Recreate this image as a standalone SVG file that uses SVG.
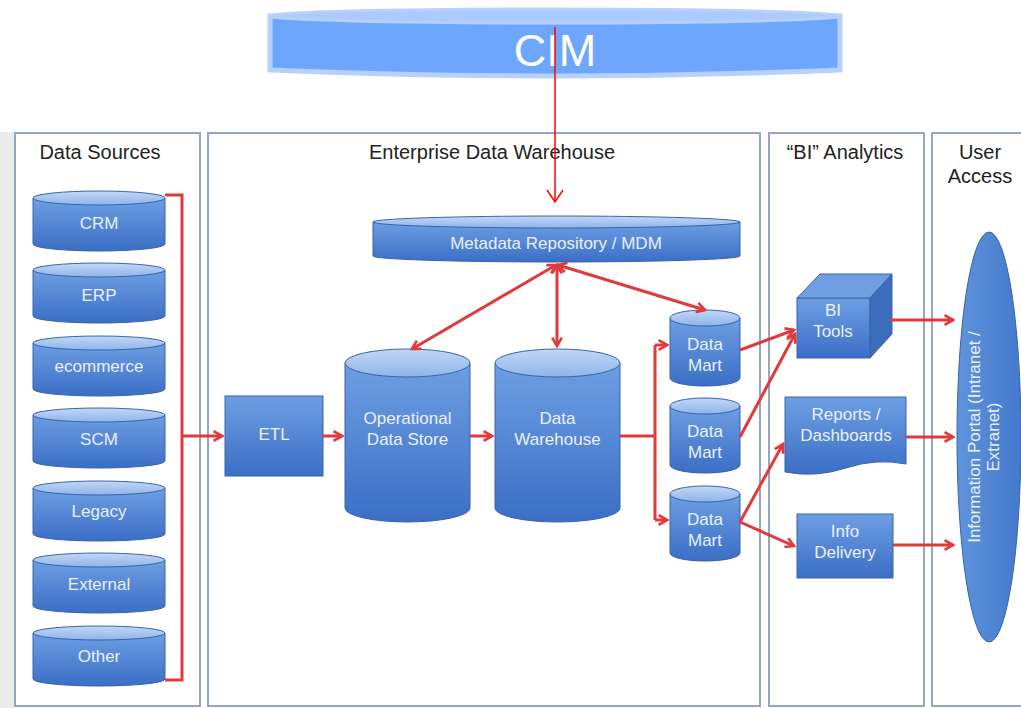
<svg xmlns="http://www.w3.org/2000/svg" width="1021" height="708" viewBox="0 0 1021 708">
<defs>
<linearGradient id="body" x1="0" y1="0" x2="0" y2="1"><stop offset="0" stop-color="#6d9ee3"/><stop offset="1" stop-color="#3b6fc6"/></linearGradient>
<linearGradient id="bodyH" x1="0" y1="0" x2="1" y2="0"><stop offset="0" stop-color="#5f93dc"/><stop offset="1" stop-color="#4479cc"/></linearGradient>
<linearGradient id="top" x1="0" y1="0" x2="0" y2="1"><stop offset="0" stop-color="#c2d8f5"/><stop offset="1" stop-color="#8fb4ea"/></linearGradient>
<marker id="ah" viewBox="0 0 10 10" refX="8" refY="5" markerWidth="4" markerHeight="4" orient="auto-start-reverse" markerUnits="strokeWidth">
<path d="M1,1 L8,5 L1,9" fill="none" stroke="#e03a3a" stroke-width="2.2"/>
</marker>
<marker id="ahv" viewBox="0 0 20 20" refX="10" refY="18" markerWidth="20" markerHeight="20" orient="0" markerUnits="userSpaceOnUse">
<path d="M2,6 L10,18 L18,6" fill="none" stroke="#ff0000" stroke-width="1.5"/>
</marker>
<style>
.panel{fill:#ffffff;stroke:#93a6c4;stroke-width:2}
.hdr{font-family:"Liberation Sans",Arial,sans-serif;font-size:20px;fill:#222;text-anchor:middle}
.lbl{font-family:"Liberation Sans",Arial,sans-serif;font-size:17px;fill:#eaf1fc;text-anchor:middle}
.cb{fill:url(#body);stroke:#3a63a8;stroke-width:1}
.ct{fill:url(#top);stroke:#3a63a8;stroke-width:1}
.con{fill:none;stroke:#e03a3a;stroke-width:3}
</style>
</defs>
<rect x="0" y="0" width="1021" height="708" fill="#ffffff"/>
<rect x="0" y="132" width="14" height="576" fill="#ececec"/>
<g id="panels">
<rect class="panel" x="15" y="133" width="185" height="573"/>
<rect class="panel" x="208" y="133" width="552" height="573"/>
<rect class="panel" x="769" y="133" width="155" height="573"/>
<rect class="panel" x="932" y="133" width="95" height="573"/>
<text class="hdr" x="100" y="159">Data Sources</text>
<text class="hdr" x="492" y="159">Enterprise Data Warehouse</text>
<text class="hdr" x="845" y="159">“BI” Analytics</text>
<text class="hdr" x="980" y="159">User</text>
<text class="hdr" x="980" y="183">Access</text>
</g>
<g id="cim">
<path d="M270,16 L270,70 Q555,82 840,70 L840,16 Z" fill="#6ea6fe" stroke="#b7d0fc" stroke-width="5"/>
<ellipse cx="555" cy="16" rx="285" ry="7" fill="#aacbfe" stroke="#b7d0fc" stroke-width="3"/>
<text x="555" y="66" font-family="Liberation Sans,Arial,sans-serif" font-size="45" fill="#ffffff" text-anchor="middle">CIM</text>
</g>
<g id="sources">
<g id="src-crm"><path class="cb" d="M33,198 L33,244 A66,7 0 0 0 165,244 L165,198 Z"/><ellipse class="ct" cx="99" cy="198" rx="66" ry="7"/><text class="lbl" x="99" y="229">CRM</text></g>
<g id="src-erp"><path class="cb" d="M33,270 L33,316 A66,7 0 0 0 165,316 L165,270 Z"/><ellipse class="ct" cx="99" cy="270" rx="66" ry="7"/><text class="lbl" x="99" y="301">ERP</text></g>
<g id="src-ecommerce"><path class="cb" d="M33,343 L33,389 A66,7 0 0 0 165,389 L165,343 Z"/><ellipse class="ct" cx="99" cy="343" rx="66" ry="7"/><text class="lbl" x="99" y="372">ecommerce</text></g>
<g id="src-scm"><path class="cb" d="M33,415 L33,461 A66,7 0 0 0 165,461 L165,415 Z"/><ellipse class="ct" cx="99" cy="415" rx="66" ry="7"/><text class="lbl" x="99" y="445">SCM</text></g>
<g id="src-legacy"><path class="cb" d="M33,488 L33,534 A66,7 0 0 0 165,534 L165,488 Z"/><ellipse class="ct" cx="99" cy="488" rx="66" ry="7"/><text class="lbl" x="99" y="517">Legacy</text></g>
<g id="src-external"><path class="cb" d="M33,560 L33,606 A66,7 0 0 0 165,606 L165,560 Z"/><ellipse class="ct" cx="99" cy="560" rx="66" ry="7"/><text class="lbl" x="99" y="590">External</text></g>
<g id="src-other"><path class="cb" d="M33,633 L33,679 A66,7 0 0 0 165,679 L165,633 Z"/><ellipse class="ct" cx="99" cy="633" rx="66" ry="7"/><text class="lbl" x="99" y="662">Other</text></g>
</g>
<g id="etl"><rect x="225" y="396" width="98" height="80" fill="url(#body)" stroke="#3a63a8"/><text class="lbl" x="274" y="440">ETL</text></g>
<g id="ods"><path class="cb" d="M345,363 L345,508 A62.5,14 0 0 0 470,508 L470,363 Z"/><ellipse class="ct" cx="407.5" cy="363" rx="62.5" ry="14"/><text class="lbl" x="407.5" y="424">Operational</text><text class="lbl" x="407.5" y="445">Data Store</text></g>
<g id="dw"><path class="cb" d="M495,363 L495,508 A62.5,14 0 0 0 620,508 L620,363 Z"/><ellipse class="ct" cx="557.5" cy="363" rx="62.5" ry="14"/><text class="lbl" x="557.5" y="424">Data</text><text class="lbl" x="557.5" y="445">Warehouse</text></g>
<g id="mdm"><path class="cb" d="M373,222 L373,256 A183.5,6 0 0 0 740,256 L740,222 Z"/><ellipse class="ct" cx="556.5" cy="222" rx="183.5" ry="6"/><text class="lbl" x="556" y="249" font-size="16">Metadata Repository / MDM</text></g>
<g id="dm1"><path class="cb" d="M670,318 L670,378 A35,8 0 0 0 740,378 L740,318 Z"/><ellipse class="ct" cx="705" cy="318" rx="35" ry="8"/><text class="lbl" x="705" y="350">Data</text><text class="lbl" x="705" y="371">Mart</text></g>
<g id="dm2"><path class="cb" d="M670,406 L670,465 A35,8 0 0 0 740,465 L740,406 Z"/><ellipse class="ct" cx="705" cy="406" rx="35" ry="8"/><text class="lbl" x="705" y="437">Data</text><text class="lbl" x="705" y="458">Mart</text></g>
<g id="dm3"><path class="cb" d="M670,494 L670,553 A35,8 0 0 0 740,553 L740,494 Z"/><ellipse class="ct" cx="705" cy="494" rx="35" ry="8"/><text class="lbl" x="705" y="525">Data</text><text class="lbl" x="705" y="546">Mart</text></g>
<g id="bitools">
<rect x="797" y="298" width="73" height="60" fill="url(#body)" stroke="#3a63a8"/>
<path d="M797,298 L820,274 L892,274 L870,298 Z" fill="#6f9fe2" stroke="#3a63a8"/>
<path d="M870,298 L892,274 L892,334 L870,358 Z" fill="#3c6cbc" stroke="#3a63a8"/>
<text class="lbl" x="833" y="316">BI</text><text class="lbl" x="833" y="337">Tools</text>
</g>
<g id="reports"><path d="M785,397 L906,397 L906,464 Q876,458 846,468 Q815,478 785,472 Z" fill="url(#body)" stroke="#3a63a8"/><text class="lbl" x="846" y="420">Reports /</text><text class="lbl" x="846" y="441">Dashboards</text></g>
<g id="info"><rect x="797" y="514" width="96" height="64" fill="url(#body)" stroke="#3a63a8"/><text class="lbl" x="845" y="537">Info</text><text class="lbl" x="845" y="558">Delivery</text></g>
<g id="portal"><ellipse cx="989" cy="437" rx="32" ry="205" fill="url(#bodyH)" stroke="#3a63a8"/><text class="lbl" font-size="15" transform="translate(980,437) rotate(-90)" y="0">Information Portal (Intranet /</text><text class="lbl" font-size="15" transform="translate(999,437) rotate(-90)" y="0">Extranet)</text></g>
<g id="connectors">
<line x1="555" y1="27" x2="555" y2="202" stroke="#ff0000" stroke-width="1.5" marker-end="url(#ahv)"/>
<path class="con" d="M165,195 L182,195 L182,680 L165,680"/>
<path class="con" d="M182,436 L222,436" marker-end="url(#ah)"/>
<path class="con" d="M323,436 L342,436" marker-end="url(#ah)"/>
<path class="con" d="M470,436 L492,436" marker-end="url(#ah)"/>
<path class="con" d="M620,436 L655,436"/>
<path class="con" d="M655,345 L655,520"/>
<path class="con" d="M655,345 L667,345" marker-end="url(#ah)"/>
<path class="con" d="M655,520 L667,520" marker-end="url(#ah)"/>
<path class="con" d="M556,265 L412,349" marker-start="url(#ah)" marker-end="url(#ah)"/>
<path class="con" d="M557,265 L557,346" marker-start="url(#ah)" marker-end="url(#ah)"/>
<path class="con" d="M558,265 L705,310" marker-start="url(#ah)" marker-end="url(#ah)"/>
<path class="con" d="M740,350 L794,330" marker-end="url(#ah)"/>
<path class="con" d="M740,437 L795,334" marker-end="url(#ah)"/>
<path class="con" d="M740,522 L783,444" marker-end="url(#ah)"/>
<path class="con" d="M740,522 L794,546" marker-end="url(#ah)"/>
<path class="con" d="M890,320 L953,320" marker-end="url(#ah)"/>
<path class="con" d="M906,437 L953,437" marker-end="url(#ah)"/>
<path class="con" d="M893,545 L953,545" marker-end="url(#ah)"/>
</g>
</svg>
